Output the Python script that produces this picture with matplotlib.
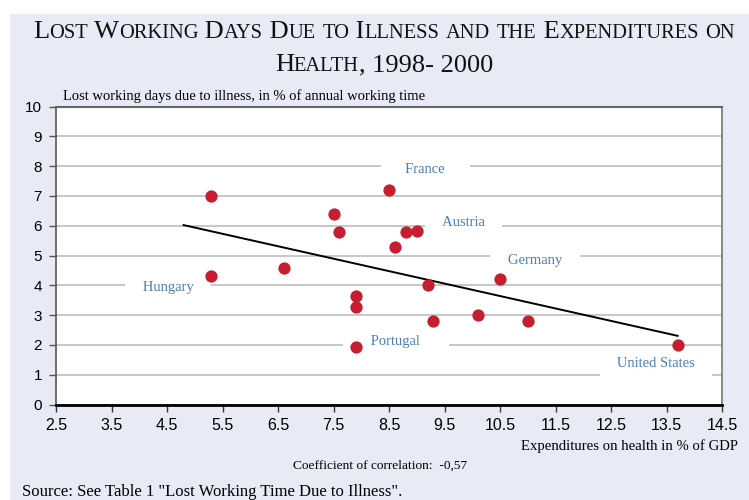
import numpy as np
import matplotlib
matplotlib.use("Agg")
import matplotlib.pyplot as plt
from matplotlib.patches import Rectangle

# ---------------- data ----------------
health_exp = [5.3, 5.3, 6.6, 7.5, 7.6, 7.9, 7.9, 7.9, 8.5, 8.6, 8.8, 9.0,
              9.2, 9.3, 10.1, 10.5, 11.0, 13.7]
lost_days = [7.0, 4.3, 4.57, 6.4, 5.8, 3.64, 3.26, 1.94, 7.2, 5.3, 5.8, 5.82,
             4.0, 2.81, 3.0, 4.2, 2.81, 2.0]
trend_x_range = [4.8, 13.7]

label_names = ["France", "Austria", "Germany", "Hungary", "Portugal", "United States"]
label_x = [9.15, 9.85, 11.13, 4.52, 8.62, 13.31]
label_y = [7.9, 6.12, 4.82, 3.94, 2.13, 1.39]
label_pad = [5, 3, 3, 3, 6, 3]   # spaces of white padding each side

x_ticks = [2.5, 3.5, 4.5, 5.5, 6.5, 7.5, 8.5, 9.5, 10.5, 11.5, 12.5, 13.5, 14.5]
y_ticks = list(range(0, 11))

title_lines = ["Lost Working Days Due to Illness and the Expenditures on",
               "Health, 1998- 2000"]
y_label = "Lost working days due to illness, in % of annual working time"
x_label = "Expenditures on health in % of GDP"
corr_text = "Coefficient of correlation:  -0,57"
source_text = 'Source: See Table 1 "Lost Working Time Due to Illness".'

# ---------------- style ----------------
BG = "#E8EBF5"
DOT = "#C41E30"
LBL = "#4A7EBB"
SERIF = "Liberation Serif"
SANS = "Liberation Sans"

fig = plt.figure(figsize=(7.49, 5.0), dpi=100)
fig.patch.set_facecolor("white")
fig.add_artist(Rectangle((10 / 749, 0), 1, 1 - 14 / 500, transform=fig.transFigure,
                         facecolor=BG, edgecolor="none", zorder=-10))

ax = fig.add_axes([56 / 749, 1 - 404.5 / 500, (722 - 56) / 749, (404.5 - 106.5) / 500])
ax.set_facecolor("white")
ax.set_xlim(2.5, 14.5)
ax.set_ylim(0, 10)
ax.set_xticks(x_ticks)
ax.set_xticklabels([f"{t:.1f}" for t in x_ticks], family=SANS, fontsize=11.5)
ax.set_yticks(y_ticks)
ax.set_yticklabels([str(t) for t in y_ticks], family=SANS, fontsize=11)
ax.tick_params(axis="x", direction="out", length=5, width=1, color="#333333", pad=5)
ax.tick_params(axis="y", direction="out", length=5, width=1, color="#555555", pad=5)
ax.grid(axis="y", color="#BEBEBE", lw=1.2, zorder=0)
ax.set_axisbelow(True)
ax.spines["bottom"].set_color("black")
ax.spines["bottom"].set_linewidth(2.0)
ax.spines["left"].set_color("#555555")
ax.spines["left"].set_linewidth(1.2)
ax.spines["top"].set_color("#666666")
ax.spines["top"].set_linewidth(1.5)
ax.spines["right"].set_color("#777777")
ax.spines["right"].set_linewidth(1.2)

# labels with white boxes (cut the grid lines)
for name, lx, ly, p in zip(label_names, label_x, label_y, label_pad):
    s = " " * p + name + " " * p
    ax.text(lx, ly, s, ha="center", va="center", family=SERIF, fontsize=10.5,
            color=LBL, zorder=2,
            bbox=dict(boxstyle="square,pad=0.45", facecolor="white", edgecolor="none"))

# trend line from least squares fit
coef = np.polyfit(health_exp, lost_days, 1)
tx = np.array(trend_x_range)
ax.plot(tx, np.polyval(coef, tx), color="black", lw=1.4, zorder=3)

ax.scatter(health_exp, lost_days, s=78, color=DOT, zorder=4, linewidths=0)

fig.text(63 / 749, 1 - 100 / 500, y_label, family=SERIF, fontsize=10.5, ha="left",
         va="baseline")
fig.text(738 / 749, 1 - 450 / 500, x_label, family=SERIF, fontsize=10.6, ha="right",
         va="baseline")
fig.text(380 / 749, 1 - 469 / 500, corr_text, family=SERIF, fontsize=9.6, ha="center",
         va="baseline")
fig.text(22 / 749, 1 - 496 / 500, source_text, family=SERIF, fontsize=12, ha="left",
         va="baseline")

# ---------------- small caps title ----------------
BIG = 19
SMALL = 14.8


def split_smallcaps(s):
    pieces = []
    for ch in s:
        small = ch.islower()
        txt = ch.upper()
        if pieces and pieces[-1][1] == small:
            pieces[-1][0] += txt
        else:
            pieces.append([txt, small])
    return pieces


fig.canvas.draw()
renderer = fig.canvas.get_renderer()
baselines = [1 - 38 / 500, 1 - 71 / 500]
center_x = 384 / 749
for line, yb in zip(title_lines, baselines):
    arts = []
    for txt, small in split_smallcaps(line):
        t = fig.text(0, yb, txt, family=SERIF, fontsize=SMALL if small else BIG,
                     ha="left", va="baseline", color="#111111")
        arts.append(t)
    widths = []
    for t in arts:
        bb = t.get_window_extent(renderer=renderer)
        widths.append(bb.width / fig.bbox.width)
    total = sum(widths)
    x = center_x - total / 2
    for t, w in zip(arts, widths):
        t.set_x(x)
        x += w

fig.savefig("out.png", dpi=100, facecolor=fig.get_facecolor())
